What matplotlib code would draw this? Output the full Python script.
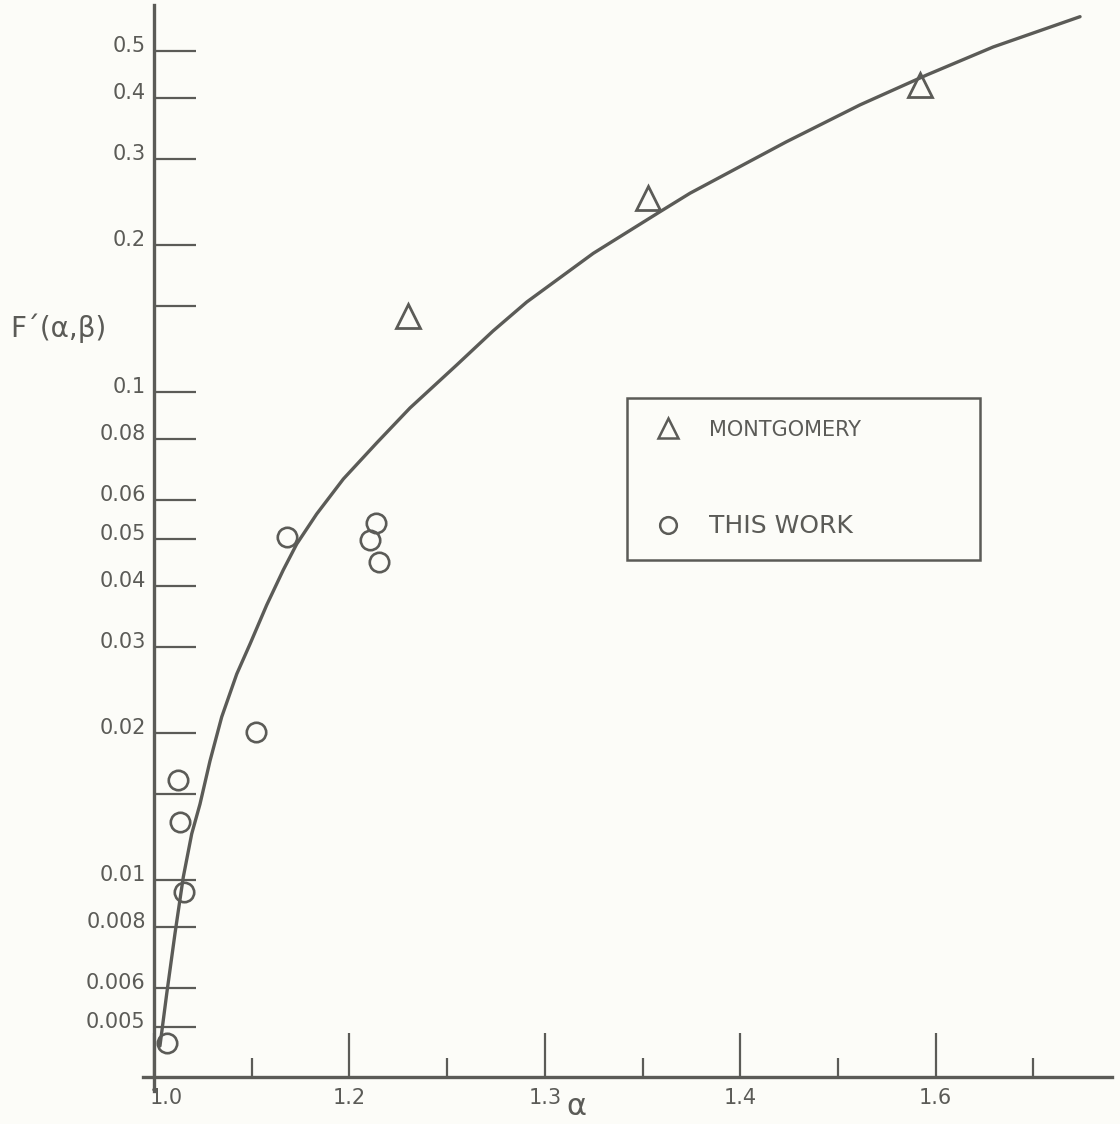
import matplotlib
matplotlib.use("Agg")
import matplotlib.pyplot as plt
import matplotlib.transforms as mtransforms
from matplotlib.lines import Line2D
from matplotlib.ticker import FixedLocator, NullLocator, FixedFormatter

# Montgomery's values
montAlpha = [1.260, 1.506, 1.784]
montF = [0.143, 0.250, 0.426]

# measured values
workAlpha = [1.013, 1.031, 1.027, 1.025, 1.104, 1.136, 1.227, 1.221, 1.230]
workF = [0.00463, 0.00945, 0.01315, 0.0160, 0.0201, 0.0505, 0.0540, 0.0498, 0.0449]

# smooth curve drawn through the data
curveAlpha = [1.0061, 1.0130, 1.0215, 1.0300, 1.0386, 1.0471, 1.0573, 1.0693, 1.0847,
              1.0983, 1.1154, 1.1323, 1.1461, 1.1665, 1.1938, 1.2279, 1.2620,
              1.3098, 1.3470, 1.3815, 1.4496, 1.5179, 1.5486, 1.6469, 1.7226, 1.7909,
              1.8588, 1.9478]
curveF = [0.00457, 0.00584, 0.00777, 0.01014, 0.01243, 0.01431, 0.01753, 0.02158, 0.02643,
          0.03045, 0.03661, 0.04317, 0.04881, 0.05623, 0.06633, 0.07862, 0.09273,
          0.11357, 0.13335, 0.15287, 0.19236, 0.23409, 0.25542, 0.32531, 0.38752, 0.44625,
          0.50919, 0.58752]

yTicks = [0.5, 0.4, 0.3, 0.2, 0.15, 0.1, 0.08, 0.06, 0.05, 0.04, 0.03, 0.02, 0.015,
          0.01, 0.008, 0.006, 0.005]
yTickLabels = ["0.5", "0.4", "0.3", "0.2", "", "0.1", "0.08", "0.06", "0.05", "0.04",
               "0.03", "0.02", "", "0.01", "0.008", "0.006", "0.005"]
xMajor = [1.0, 1.2, 1.4, 1.6, 1.8]
xMajorLabels = ["1.0", "1.2", "1.3", "1.4", "1.6"]
xMinor = [1.1, 1.3, 1.5, 1.7, 1.9]

ink = "#5b5b57"
paper = "#fcfcf8"

fig = plt.figure(figsize=(11.2, 11.24), dpi=100, facecolor=paper)
ax = fig.add_axes([0, 0, 1, 1], facecolor=paper)
ax.set_yscale("log")
ax.set_xlim(0.8424, 1.9887)
ax.set_ylim(0.0031623, 0.63565)

ax.plot(curveAlpha, curveF, color=ink, lw=2.4, solid_capstyle="round",
        solid_joinstyle="round", zorder=2)
ax.plot(montAlpha, montF, ls="none", marker="^", ms=17, mfc="none", mec=ink, mew=2.0, zorder=3)
ax.plot(workAlpha, workF, ls="none", marker="o", ms=14, mfc="none", mec=ink, mew=1.9, zorder=3)

# axes drawn as two crossing lines
for side in ["top", "right"]:
    ax.spines[side].set_visible(False)
ax.spines["left"].set_position(("data", 1.0))
ax.spines["left"].set_bounds(0.0037, 0.621)
ax.spines["bottom"].set_position(("data", 0.003946))
ax.spines["bottom"].set_bounds(0.9887, 1.9806)
for side in ["left", "bottom"]:
    ax.spines[side].set_color(ink)
    ax.spines[side].set_linewidth(2.4)

ax.yaxis.set_major_locator(FixedLocator(yTicks))
ax.yaxis.set_major_formatter(FixedFormatter(yTickLabels))
ax.yaxis.set_minor_locator(NullLocator())
ax.tick_params(axis="y", which="major", direction="in", length=30, width=1.6,
               color=ink, labelcolor=ink, labelsize=15, pad=6)

ax.xaxis.set_major_locator(FixedLocator(xMajor))
ax.xaxis.set_major_formatter(FixedFormatter(xMajorLabels))
ax.xaxis.set_minor_locator(FixedLocator(xMinor))
ax.tick_params(axis="x", which="major", direction="in", length=32, width=1.6,
               color=ink, labelcolor=ink, labelsize=15, pad=8)
ax.tick_params(axis="x", which="minor", direction="in", length=14, width=1.6, color=ink)

# labels sit a little above their tick lines
lift = mtransforms.ScaledTranslation(0, 7 / 100, fig.dpi_scale_trans)
for lbl in ax.get_yticklabels():
    lbl.set_transform(lbl.get_transform() + lift)
nudge = mtransforms.ScaledTranslation(12 / 100, 0, fig.dpi_scale_trans)
firstX = ax.get_xticklabels()[0]
firstX.set_transform(firstX.get_transform() + nudge)

ax.text(0.009, 0.708, "F´(α,β)", transform=ax.transAxes, ha="left", va="center",
        fontsize=20, color=ink)
ax.text(0.515, 0.016, "α", transform=ax.transAxes, ha="center", va="center",
        fontsize=22, color=ink)

handles = [Line2D([], [], ls="none", marker="^", ms=14, mfc="none", mec=ink, mew=1.8),
           Line2D([], [], ls="none", marker="o", ms=12, mfc="none", mec=ink, mew=1.8)]
leg = ax.legend(handles, ["MONTGOMERY", "THIS WORK"], loc="lower left",
                bbox_to_anchor=(0.560, 0.502, 0.315, 0.142), mode="expand",
                borderaxespad=0, fontsize=16, labelspacing=3.3, borderpad=1.0,
                handlelength=1.7, handletextpad=1.0, fancybox=False, framealpha=1,
                facecolor=paper, edgecolor=ink, labelcolor=ink)
leg.get_frame().set_linewidth(1.8)
leg.get_texts()[0].set_fontsize(15)
leg.get_texts()[1].set_fontsize(18)

fig.savefig("out.png", dpi=100, facecolor=paper)
